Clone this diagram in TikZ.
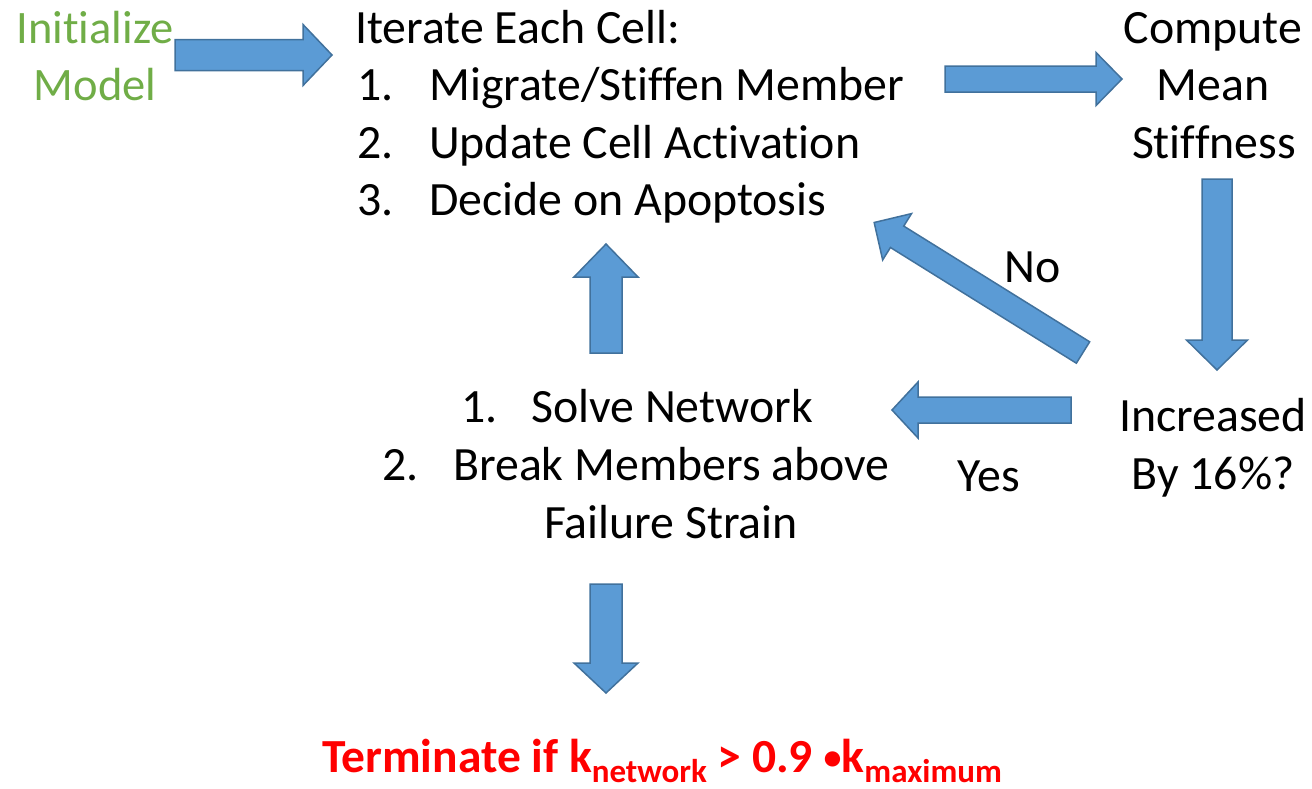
\documentclass[tikz,border=0pt]{standalone}
\usepackage{fontspec}
\setmainfont{Carlito}[Ligatures=CommonOff]
\definecolor{arrowfill}{HTML}{5B9BD5}
\definecolor{arrowline}{HTML}{41719C}
\definecolor{initgreen}{HTML}{70AD47}
\definecolor{stopred}{HTML}{FF0000}
\tikzset{
  barrow/.style={fill=arrowfill, draw=arrowline, line width=1.5pt, line join=miter},
  txt/.style={inner sep=0pt, font=\fontsize{47.8}{56}\selectfont, text=black},
  lbl/.style={txt, anchor=base west},
  ctr/.style={txt, anchor=base},
}
\newcommand\subtxt[1]{\raisebox{-10pt}{\fontsize{33}{36}\selectfont #1}}
\newcommand\dotsym{\raisebox{3pt}{\fontsize{36}{40}\selectfont •}}
% block arrow: tail x, tail y, direction, length, shaft half width, head half width, head length
\newcommand\blockarrow[7]{%
  \begin{scope}[shift={(#1,#2)}, rotate=#3]
    \draw[barrow] (0,-#5) -- (#4-#7,-#5) -- (#4-#7,-#6) -- (#4,0)
      -- (#4-#7,#6) -- (#4-#7,#5) -- (0,#5) -- cycle;
  \end{scope}}
\begin{document}
\begin{tikzpicture}[x=1pt,y=-1pt]
\useasboundingbox (0,0) rectangle (1312,788);

% start
\node[ctr, text=initgreen, font=\fontsize{46.5}{56}\selectfont] (init1) at (95,43) {Initialize};
\node[ctr, text=initgreen, font=\fontsize{46.5}{56}\selectfont] (init2) at (95,100) {Model};

% cell loop
\node[lbl] (iter) at (355,43) {Iterate Each Cell:};
\node[lbl] (n1) at (357,100) {1.};
\node[lbl] (s1) at (429,100) {Migrate/Stiffen Member};
\node[lbl] (n2) at (357,158) {2.};
\node[lbl] (s2) at (429,158) {Update Cell Activation};
\node[lbl] (n3) at (357,215) {3.};
\node[lbl] (s3) at (429,215) {Decide on Apoptosis};

% stiffness
\node[ctr] (c1) at (1213,43) {Compute};
\node[ctr] (c2) at (1213,100) {Mean};
\node[ctr] (c3) at (1214,158) {Stiffness};

% decision
\node[ctr] (d1) at (1213,431) {Increased};
\node[ctr] (d2) at (1213,489) {By 16\%?};
\node[ctr] (no) at (1033,282) {No};
\node[ctr] (yes) at (989,491) {Yes};

% network solve
\node[lbl] (m1) at (461,422) {1.};
\node[lbl] (t1) at (531,422) {Solve Network};
\node[lbl] (m2) at (382,480) {2.};
\node[lbl] (t2) at (453,480) {Break Members above};
\node[ctr] (t3) at (671,538) {Failure Strain};

% termination
\node[anchor=base, inner sep=0pt, text=stopred,
      font=\fontsize{47.5}{52}\selectfont\bfseries] (term) at (662,772)
  {Terminate if k\subtxt{network} > 0.9 \dotsym k\subtxt{maximum}};

% block arrows
\blockarrow{175}{55}{0}{157}{15.5}{30.5}{29}
\blockarrow{945}{79}{0}{177}{13}{26.5}{26}
\blockarrow{1217}{179}{-90}{191}{15}{30.5}{30}
\blockarrow{1083}{352.5}{148.1}{246}{12.6}{27.3}{27}
\blockarrow{1071}{410}{180}{179}{13}{28}{26}
\blockarrow{606}{353}{90}{109}{16}{32}{33}
\blockarrow{606}{584}{-90}{109}{16}{32}{30}
\end{tikzpicture}
\end{document}
